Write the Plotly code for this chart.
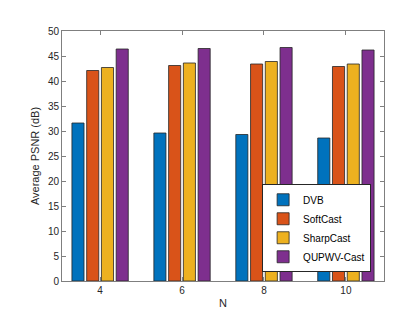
import plotly.graph_objects as go

N = [4, 6, 8, 10]
dvb = [31.6, 29.6, 29.3, 28.6]
softcast = [42.1, 43.1, 43.4, 42.9]
sharpcast = [42.7, 43.6, 43.9, 43.4]
qupwv = [46.4, 46.5, 46.7, 46.2]
series_names = ["DVB", "SoftCast", "SharpCast", "QUPWV-Cast"]
colors = ["#0072BD", "#D95319", "#EDB120", "#7E2F8E"]
yticks = list(range(0, 51, 5))

fig = go.Figure()
for name, vals, c in zip(series_names, [dvb, softcast, sharpcast, qupwv], colors):
    fig.add_trace(go.Bar(x=N, y=vals, name=name, marker=dict(color=c, line=dict(color="#262626", width=0.8))))

axis_common = dict(showline=True, linecolor="#7f7f7f", linewidth=1, mirror="ticks",
                   ticks="inside", ticklen=4, tickcolor="#7f7f7f", showgrid=False, zeroline=False,
                   tickfont=dict(family="Liberation Sans, Arial", size=10, color="#262626"))

fig.update_layout(
    width=415, height=312,
    margin=dict(l=54, r=39, t=23, b=34),
    paper_bgcolor="white", plot_bgcolor="white",
    barmode="group", bargap=0.28, bargroupgap=0.18,
    font=dict(family="Liberation Sans, Arial", size=10, color="#262626"),
    xaxis=dict(range=[3.07, 10.93], tickvals=N, ticktext=[str(n) for n in N],
               title=dict(text="N", font=dict(size=11), standoff=4), **axis_common),
    yaxis=dict(range=[0, 50], tickvals=yticks,
               title=dict(text="Average PSNR (dB)", font=dict(size=11), standoff=6), **axis_common),
    legend=dict(x=0.96, y=0.035, xanchor="right", yanchor="bottom",
                bgcolor="white", bordercolor="#262626", borderwidth=1,
                font=dict(size=10, color="#000000"), tracegroupgap=0, itemwidth=30),
    showlegend=True,
)

fig.write_html("out.html")
